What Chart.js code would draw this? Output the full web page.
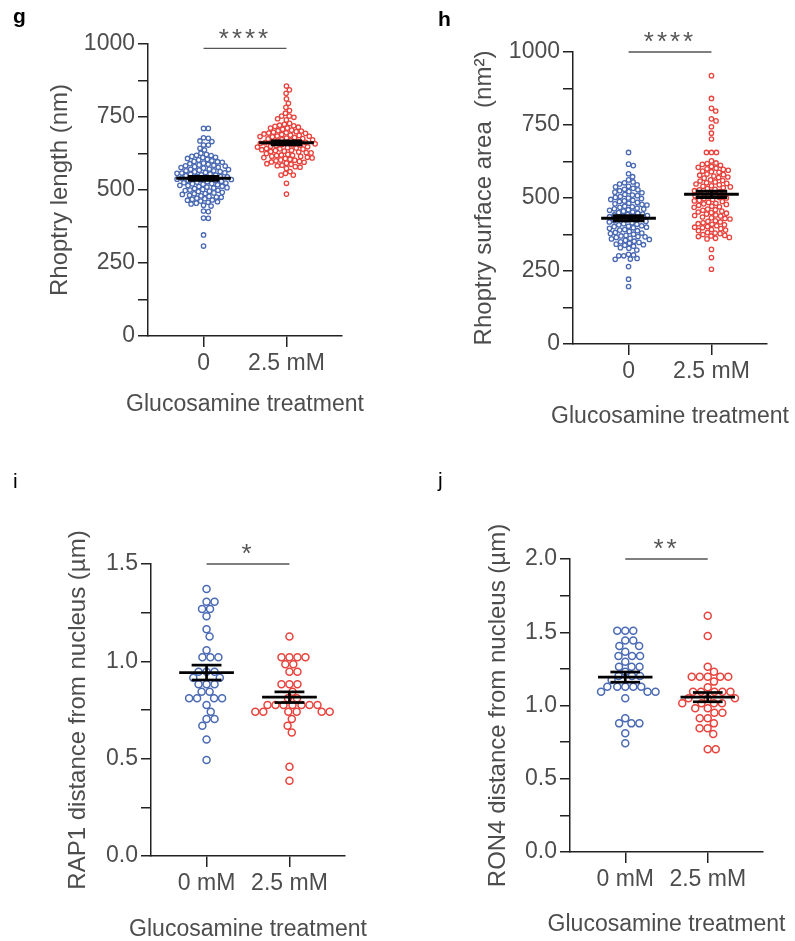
<!DOCTYPE html>
<html>
<head>
<meta charset="utf-8">
<script src="https://cdn.jsdelivr.net/npm/chart.js@4.4.1/dist/chart.umd.min.js"></script>
<style>
html, body { margin: 0; padding: 0; background: #fff; width: 795px; height: 941px; overflow: hidden; }
canvas { position: absolute; }
</style>
</head>
<body>
<canvas id="grafico-g" width="397" height="460" style="left:0;top:0"></canvas>
<canvas id="grafico-h" width="397" height="460" style="left:398px;top:0"></canvas>
<canvas id="grafico-i" width="397" height="485" style="left:0;top:460px"></canvas>
<canvas id="grafico-j" width="397" height="485" style="left:398px;top:460px"></canvas>
<script>
// Categorias e rótulos dos eixos
const categoriasGH = ['0', '2.5 mM'];
const categoriasIJ = ['0 mM', '2.5 mM'];
const rotulosGH = [0, 250, 500, 750, 1000];
const rotulosI = [0, 0.5, 1.0, 1.5];
const rotulosJ = [0, 0.5, 1.0, 1.5, 2.0];

// g - Rhoptry length (nm)
const comprimento0 = [
    612, 618, 622, 608, 615, 605, 598, 592, 603, 595, 588, 600, 590, 585,
    582, 575, 578, 570, 586, 572, 580, 568, 577, 562, 555, 558, 566, 552, 560, 549, 563, 557, 554,
    545, 538, 541, 535, 547, 532, 543, 539, 536, 530, 525, 518, 522, 515, 528, 512, 520, 516, 524, 510,
    505, 498, 502, 495, 508, 492, 500, 496, 490, 485, 478, 482, 475, 488, 472, 480, 470,
    465, 458, 462, 455, 468, 452, 460,
    611, 597, 583, 571, 566, 559, 551, 546, 537, 533, 527, 521, 513, 507, 499, 487, 476, 466, 619,
    711, 711, 679, 677, 668, 666, 654, 654, 643, 626, 637, 426, 428, 403, 404, 346, 308, 445, 448
];
const comprimento25 = [
    725, 718, 722, 715, 728, 712, 720, 705, 698, 702, 695, 708, 692, 700, 696, 690,
    685, 678, 682, 675, 688, 672, 680, 676, 670, 684, 665, 658, 662, 655, 668, 652, 660, 656, 650, 663,
    645, 638, 642, 635, 648, 632, 640, 636, 630, 644, 625, 618, 622, 615, 628, 612, 620, 616, 610,
    605, 598, 602, 595, 608, 592, 600, 590, 585, 580, 588, 583, 578,
    712, 703, 694, 687, 683, 673, 667, 661, 654, 647, 641, 633, 627, 619, 611, 603, 596,
    856, 843, 831, 812, 797, 783, 772, 763, 753, 753, 749, 744, 740, 574, 557, 563, 551, 551, 523, 486
];

// h - Rhoptry surface area (nm2)
const area0 = [
    552, 548, 545, 540, 538, 555, 530, 522, 528, 520, 533, 518, 525,
    510, 502, 508, 500, 512, 498, 505, 495, 490, 482, 488, 480, 492, 478, 485, 476,
    470, 462, 468, 460, 472, 458, 465, 455, 463, 450, 442, 448, 440, 452, 438, 445, 436, 443,
    430, 422, 428, 420, 432, 418, 425, 415, 427, 410, 402, 408, 400, 412, 398, 405, 396, 403,
    390, 382, 388, 380, 392, 378, 385, 376, 370, 362, 368, 360, 372, 358, 365, 355, 367,
    350, 342, 348, 340, 352, 338, 345, 330, 322, 328, 335,
    656, 611, 616, 583, 573, 562, 307, 305, 302, 302, 291, 290, 293, 265, 222, 197
];
const area25 = [
    618, 612, 608, 615, 605, 620, 598, 592, 600, 590, 595, 588, 602,
    578, 572, 580, 570, 575, 568, 582, 558, 552, 560, 550, 555, 548, 562, 545,
    538, 532, 540, 530, 535, 528, 542, 525, 518, 512, 520, 510, 515, 508, 522, 505,
    498, 492, 500, 490, 495, 488, 502, 485, 478, 472, 480, 470, 475, 468, 482,
    458, 452, 460, 450, 455, 448, 462, 445, 438, 432, 440, 430, 435, 428, 442,
    418, 412, 420, 410, 415, 408, 422, 405, 398, 392, 400, 390, 395, 388, 402,
    378, 372, 380, 370, 375, 368, 382, 365,
    919, 841, 807, 798, 771, 764, 744, 722, 702, 656, 656, 656, 627, 324, 296, 256, 362, 360
];

// i - RAP1 distance from nucleus (um)
const rap1_0 = [
    1.372, 1.306, 1.306, 1.269, 1.269, 1.231, 1.165, 1.127, 1.057, 1.021, 1.021, 1.021,
    0.947, 0.947, 0.947, 0.916, 0.916, 0.882, 0.882, 0.882, 0.844, 0.844,
    0.810, 0.810, 0.810, 0.810, 0.776, 0.741, 0.704, 0.704, 0.669, 0.599, 0.493
];
const rap1_25 = [
    1.127, 1.021, 1.021, 1.021, 1.021, 0.985, 0.985, 0.947, 0.947, 0.882, 0.882, 0.882,
    0.844, 0.810, 0.810, 0.776, 0.776, 0.776, 0.776, 0.776, 0.776, 0.776,
    0.741, 0.741, 0.741, 0.741, 0.741, 0.741, 0.704, 0.669, 0.634, 0.459, 0.387
];

// j - RON4 distance from nucleus (um)
const ron4_0 = [
    1.511, 1.511, 1.511, 1.443, 1.443, 1.406, 1.406, 1.367, 1.338, 1.338, 1.338, 1.299,
    1.265, 1.265, 1.265, 1.231, 1.201, 1.201, 1.201, 1.174, 1.128, 1.128, 1.128, 1.128, 1.128,
    1.094, 1.094, 1.094, 1.049, 0.913, 0.878, 0.878, 0.878, 0.810, 0.742
];
const ron4_25 = [
    1.613, 1.474, 1.265, 1.231, 1.197, 1.197, 1.197, 1.197, 1.197, 1.163, 1.124,
    1.094, 1.094, 1.094, 1.094, 1.094, 1.049, 1.049, 1.049, 1.015, 1.015, 1.015, 1.015,
    0.981, 0.981, 0.951, 0.951, 0.913, 0.913, 0.878, 0.844, 0.844, 0.805, 0.701, 0.701
];

const CORES = ['#4a6ab4', '#e8433d'];
const FONTE = '"Liberation Sans", Arial, sans-serif';
const CINZA = '#4d4d4d';
const ALTURA_TITULO = 24;

function media(a) {
    return a.reduce((s, v) => s + v, 0) / a.length;
}

function erroPadrao(a) {
    const m = media(a);
    const dp = Math.sqrt(a.reduce((s, v) => s + (v - m) * (v - m), 0) / (a.length - 1));
    return dp / Math.sqrt(a.length);
}

function segmento(x0, x1, y0, y1, largura) {
    return {
        data: [{ x: x0, y: y0 }, { x: x1, y: y1 }],
        showLine: true,
        borderColor: '#000',
        borderWidth: largura,
        borderCapStyle: 'butt',
        pointRadius: 0,
        pointHoverRadius: 0,
        order: 0
    };
}

// Letra do painel, título do eixo x, barra de significância e estrelas
const anotacoes = {
    id: 'anotacoes',
    afterDraw(chart, args, opts) {
        const { ctx, scales, chartArea } = chart;
        ctx.save();
        ctx.fillStyle = '#000';
        ctx.font = opts.fonteLetra;
        ctx.textAlign = 'left';
        ctx.textBaseline = 'alphabetic';
        ctx.fillText(opts.letra, opts.letraX, opts.letraY);

        ctx.fillStyle = CINZA;
        ctx.font = '23px ' + FONTE;
        ctx.textAlign = 'center';
        ctx.textBaseline = 'middle';
        ctx.fillText('Glucosamine treatment', (chartArea.left + chartArea.right) / 2, opts.tituloXY);

        const x0 = scales.x.getPixelForValue(0);
        const x1 = scales.x.getPixelForValue(1);
        const y = scales.y.getPixelForValue(opts.barra);
        ctx.strokeStyle = '#555';
        ctx.lineWidth = 1.3;
        ctx.beginPath();
        ctx.moveTo(x0, y);
        ctx.lineTo(x1, y);
        ctx.stroke();

        ctx.fillStyle = '#555';
        ctx.font = '26px ' + FONTE;
        ctx.letterSpacing = '3px';
        ctx.fillText(opts.estrelas, (x0 + x1) / 2, y - 9);
        ctx.restore();
    }
};

// Espalhar os pontos de cada grupo sem sobreposição (beeswarm)
function espalhar(chart, diametro) {
    const xs = chart.scales.x;
    const ys = chart.scales.y;
    chart.data.datasets.forEach(ds => {
        if (ds.centro === undefined) return;
        const cx = xs.getPixelForValue(ds.centro);
        const pts = ds.data.map(p => ({ p, py: ys.getPixelForValue(p.y), dx: 0 }))
            .sort((a, b) => a.py - b.py);
        const colocados = [];
        pts.forEach(q => {
            const candidatos = [0];
            colocados.forEach(o => {
                const dy = q.py - o.py;
                if (Math.abs(dy) < diametro) {
                    const dx = Math.sqrt(diametro * diametro - dy * dy);
                    candidatos.push(o.dx + dx, o.dx - dx);
                }
            });
            candidatos.sort((a, b) => Math.abs(a) - Math.abs(b));
            q.dx = candidatos.find(c => colocados.every(o =>
                Math.hypot(o.dx - c, o.py - q.py) >= diametro - 0.01));
            colocados.push(q);
            q.p.x = xs.getValueForPixel(cx + q.dx);
        });
    });
    chart.update('none');
}

function graficoPainel(id, cfg) {
    const padEsq = cfg.tituloYX - ALTURA_TITULO / 2;
    const baseX = cfg.tituloXY + ALTURA_TITULO / 2;
    const canvas = document.getElementById(id);

    const datasets = [];
    cfg.grupos.forEach((valores, g) => {
        const m = media(valores);
        const s = erroPadrao(valores);
        datasets.push(segmento(g - 0.33, g + 0.33, m, m, cfg.espessura));
        datasets.push(segmento(g, g, m - s, m + s, cfg.espessura));
        datasets.push(segmento(g - cfg.tampa, g + cfg.tampa, m + s, m + s, cfg.espessura));
        datasets.push(segmento(g - cfg.tampa, g + cfg.tampa, m - s, m - s, cfg.espessura));
        datasets.push({
            data: valores.map(v => ({ x: g, y: v })),
            centro: g,
            pointStyle: 'circle',
            pointRadius: cfg.raio,
            pointBorderWidth: cfg.borda,
            pointBackgroundColor: 'rgba(0,0,0,0)',
            pointBorderColor: CORES[g],
            borderColor: CORES[g],
            order: 1
        });
    });

    const chart = new Chart(canvas.getContext('2d'), {
        type: 'scatter',
        data: { datasets },
        plugins: [anotacoes],
        options: {
            responsive: false,
            animation: false,
            events: [],
            layout: {
                padding: {
                    left: padEsq,
                    top: cfg.area.t,
                    right: canvas.width - cfg.area.r,
                    bottom: canvas.height - baseX
                }
            },
            plugins: {
                legend: { display: false },
                tooltip: { enabled: false },
                anotacoes: Object.assign({ tituloXY: cfg.tituloXY }, cfg.anotacoes)
            },
            scales: {
                x: {
                    type: 'linear',
                    min: -0.67,
                    max: 1.67,
                    afterFit: s => { s.height = baseX - cfg.area.b; },
                    afterBuildTicks: s => { s.ticks = [{ value: 0 }, { value: 1 }]; },
                    grid: { drawOnChartArea: false, tickLength: 11, color: '#222', lineWidth: 1.5 },
                    border: { color: '#222', width: 1.5 },
                    ticks: {
                        autoSkip: false,
                        maxRotation: 0,
                        padding: 3,
                        color: CINZA,
                        font: { family: FONTE, size: 23 },
                        callback: v => cfg.categorias[v]
                    }
                },
                y: {
                    min: 0,
                    max: cfg.maximo,
                    afterFit: s => { s.width = cfg.area.l - padEsq; },
                    grid: { drawOnChartArea: false, tickLength: 10, color: '#222', lineWidth: 1.5 },
                    border: { color: '#222', width: 1.5 },
                    ticks: {
                        stepSize: cfg.passo,
                        padding: 3,
                        color: CINZA,
                        font: { family: FONTE, size: 23 },
                        callback: v => cfg.rotulos.some(t => Math.abs(t - v) < 1e-9) ? cfg.formato(v) : ''
                    },
                    title: {
                        display: true,
                        text: cfg.tituloY,
                        color: CINZA,
                        padding: 0,
                        font: { family: FONTE, size: 24, lineHeight: 1 }
                    }
                }
            }
        }
    });
    espalhar(chart, cfg.diametro);
}

function carregarPaineis() {
    graficoPainel('grafico-g', {
        grupos: [comprimento0, comprimento25], categorias: categoriasGH, rotulos: rotulosGH,
        maximo: 1000, passo: 125, formato: v => String(v),
        area: { l: 148, t: 44, r: 342, b: 336 }, tituloYX: 60, tituloXY: 405,
        tituloY: 'Rhoptry length (nm)',
        raio: 2.2, borda: 1.3, diametro: 4.8, espessura: 3, tampa: 0.19,
        anotacoes: { letra: 'g', letraX: 13, letraY: 23, fonteLetra: 'bold 21px ' + FONTE, barra: 985, estrelas: '****' }
    });
    graficoPainel('grafico-h', {
        grupos: [area0, area25], categorias: categoriasGH, rotulos: rotulosGH,
        maximo: 1000, passo: 125, formato: v => String(v),
        area: { l: 175, t: 52, r: 369, b: 344 }, tituloYX: 86, tituloXY: 417,
        tituloY: 'Rhoptry surface area  (nm\u00B2)',
        raio: 2.2, borda: 1.3, diametro: 5, espessura: 3, tampa: 0.19,
        anotacoes: { letra: 'h', letraX: 40, letraY: 26, fonteLetra: 'bold 21px ' + FONTE, barra: 1000, estrelas: '****' }
    });
    graficoPainel('grafico-i', {
        grupos: [rap1_0, rap1_25], categorias: categoriasIJ, rotulos: rotulosI,
        maximo: 1.5, passo: 0.25, formato: v => v.toFixed(1),
        area: { l: 151, t: 104, r: 345, b: 396 }, tituloYX: 78, tituloXY: 470,
        tituloY: 'RAP1 distance from nucleus (\u00B5m)',
        raio: 3.5, borda: 1.5, diametro: 8, espessura: 2.7, tampa: 0.18,
        anotacoes: { letra: 'i', letraX: 13, letraY: 28, fonteLetra: '21px ' + FONTE, barra: 1.5, estrelas: '*' }
    });
    graficoPainel('grafico-j', {
        grupos: [ron4_0, ron4_25], categorias: categoriasIJ, rotulos: rotulosJ,
        maximo: 2.0, passo: 0.25, formato: v => v.toFixed(1),
        area: { l: 172, t: 99, r: 365, b: 392 }, tituloYX: 100, tituloXY: 465,
        tituloY: 'RON4 distance from nucleus (\u00B5m)',
        raio: 3.5, borda: 1.5, diametro: 8, espessura: 2.7, tampa: 0.18,
        anotacoes: { letra: 'j', letraX: 40, letraY: 27, fonteLetra: '21px ' + FONTE, barra: 2.0, estrelas: '**' }
    });
}

document.addEventListener('DOMContentLoaded', carregarPaineis);
</script>
</body>
</html>
